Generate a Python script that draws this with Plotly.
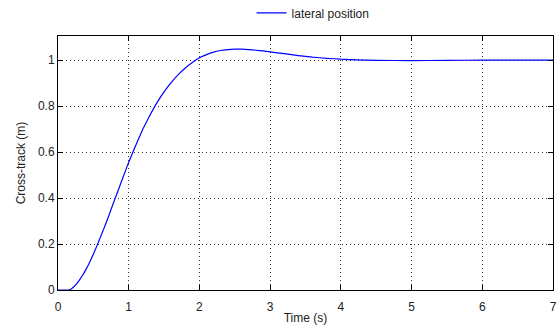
import plotly.graph_objects as go

time_s = [0, 0.1, 0.15, 0.2, 0.25, 0.3, 0.35, 0.4, 0.45, 0.5, 0.55, 0.6, 0.65, 0.7, 0.75, 0.8,
          0.85, 0.9, 0.95, 1.0, 1.1, 1.2, 1.3, 1.4, 1.5, 1.6, 1.7, 1.8, 1.9, 2.0, 2.1, 2.2,
          2.3, 2.4, 2.5, 2.6, 2.7, 2.8, 2.9, 3.0, 3.2, 3.4, 3.6, 3.8, 4.0, 4.25, 4.5, 5.0,
          5.5, 6.0, 7.0]
lateral_position = [0, 0, 0, 0.008, 0.022, 0.042, 0.065, 0.092, 0.122, 0.156, 0.192, 0.23,
                    0.268, 0.308, 0.35, 0.392, 0.433, 0.474, 0.515, 0.556, 0.63, 0.7, 0.76,
                    0.815, 0.862, 0.902, 0.937, 0.966, 0.99, 1.01, 1.024, 1.035, 1.042, 1.046,
                    1.048, 1.048, 1.046, 1.043, 1.04, 1.036, 1.028, 1.02, 1.013, 1.008, 1.004,
                    1.001, 0.999, 0.998, 0.999, 1.0, 1.0]
x_ticks = [0, 1, 2, 3, 4, 5, 6, 7]
y_ticks = [0, 0.2, 0.4, 0.6, 0.8, 1]
y_tick_labels = ["0", "0.2", "0.4", "0.6", "0.8", "1"]

fig = go.Figure()
fig.add_trace(go.Scatter(x=time_s, y=lateral_position, mode="lines",
                         line=dict(color="#0000ff", width=1.2, shape="spline", smoothing=0.3),
                         name="lateral position"))

axis_common = dict(showline=True, linecolor="black", linewidth=1, mirror="ticks",
                   ticks="inside", ticklen=5, tickcolor="black",
                   showgrid=True, gridcolor="#333", griddash="1px,3px", gridwidth=1,
                   zeroline=False, tickfont=dict(size=12, color="#222"), automargin=False)

fig.update_xaxes(range=[0, 7], tickvals=x_ticks, ticklabelstandoff=6,
                 title=dict(text="Time (s)", standoff=0, font=dict(size=12, color="#222")),
                 **axis_common)
fig.update_yaxes(range=[0, 1.105], tickvals=y_ticks, ticktext=y_tick_labels,
                 title=dict(text="Cross-track (m)", standoff=9, font=dict(size=12, color="#222")),
                 **axis_common)

fig.update_layout(width=559, height=328,
                  margin=dict(l=58, r=6, t=36, b=38, autoexpand=False),
                  plot_bgcolor="white", paper_bgcolor="white",
                  font=dict(family="Liberation Sans, Arial, sans-serif", size=12, color="#222"),
                  showlegend=True,
                  legend=dict(orientation="h", x=0.391, xanchor="left", y=1.091, yanchor="middle",
                              font=dict(size=12), bgcolor="rgba(0,0,0,0)", itemwidth=30))
fig.write_html("out.html", config={"displayModeBar": False},
               post_script="document.body.style.margin='0';document.body.style.overflow='hidden';")
